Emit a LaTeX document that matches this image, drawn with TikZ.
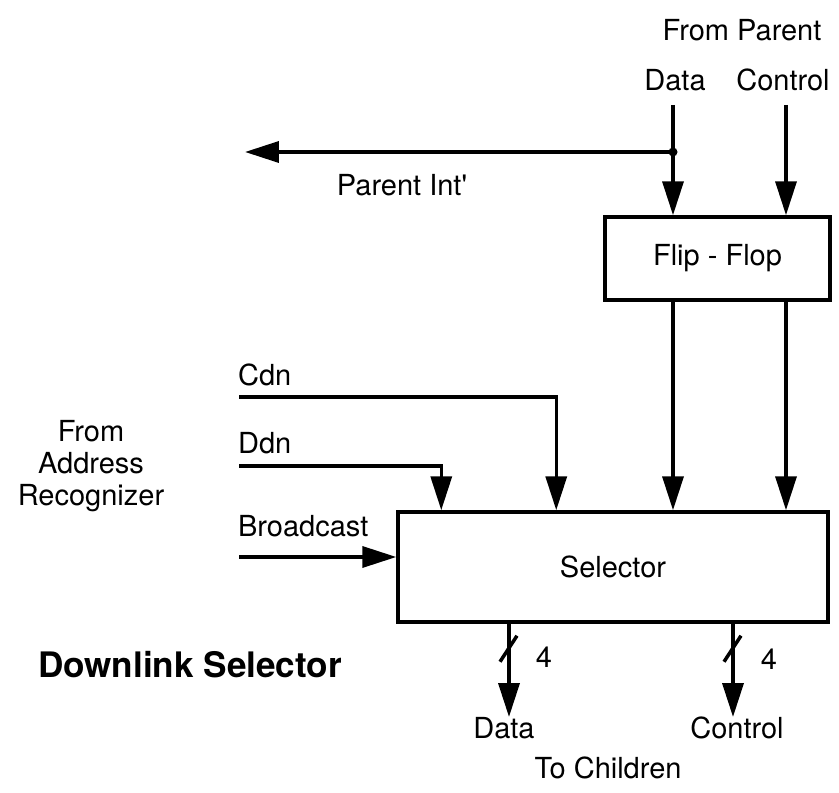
\documentclass[tikz,border=0pt]{standalone}
\usepackage{fontspec}
\setmainfont{TeX Gyre Heros}
\usetikzlibrary{positioning, arrows.meta, calc}

\tikzset{
    sig/.style={line width=2pt, -{Triangle[length=0.68cm, width=0.42cm]}},
    wire/.style={line width=2pt},
    block/.style={draw, line width=2pt, inner sep=0pt},
    lbl/.style={font=\fontsize{16.5}{20}\selectfont, inner sep=1pt},
}

\begin{document}
\begin{tikzpicture}[x=0.02cm, y=-0.02cm]
    \useasboundingbox (0,0) rectangle (839,793);

    % Flip-flop
    \node[block, minimum width=4.5cm, minimum height=1.66cm, lbl, inner sep=0pt] (ff) at (717.5,258.5) {Flip - Flop};

    % Inputs from parent
    \node[lbl] (fp) at (742,30) {From Parent};
    \node[lbl] (pdl) at (675,80) {Data};
    \node[lbl] (pcl) at (783,80) {Control};
    \coordinate (pd) at (673,105);
    \coordinate (pc) at (786,105);
    \coordinate (jn) at (673,152);
    \draw[sig] (pd) -- (pd |- ff.north);
    \draw[sig] (pc) -- (pc |- ff.north);

    % Parent Int' branch
    \coordinate (pint) at (245,152);
    \draw[sig] (jn) -- (pint);
    \fill (jn) circle (0.09cm);
    \node[lbl] (pil) at (402,185) {Parent Int\textquotesingle};

    % Selector
    \node[block, minimum width=8.6cm, minimum height=2.2cm, lbl, inner sep=0pt] (sel) at (613,567) {Selector};
    \draw[sig] (pd |- ff.south) -- (pd |- sel.north);
    \draw[sig] (pc |- ff.south) -- (pc |- sel.north);

    % From address recognizer
    \node[lbl, align=center, font=\fontsize{16.5}{18.2}\selectfont] (ar) at (91,466) {From\\Address\\Recognizer};
    \node[lbl, anchor=west] (cdnl) at (236,375) {Cdn};
    \node[lbl, anchor=west] (ddnl) at (236,443) {Ddn};
    \node[lbl, anchor=west] (bcl) at (236,526) {Broadcast};
    \coordinate (cdn) at (239,397);
    \coordinate (ddn) at (239,466);
    \coordinate (bc) at (239,557);
    \draw[sig] (cdn) -| ([xshift=3.2cm]sel.north west);
    \draw[sig] (ddn) -| ([xshift=0.9cm]sel.north west);
    \draw[sig] (bc) -- (bc -| sel.west);

    % To children
    \coordinate (od) at (509,717);
    \coordinate (oc) at (733,717);
    \draw[sig] (od |- sel.south) -- (od);
    \draw[sig] (oc |- sel.south) -- (oc);
    \draw[wire] ($(od |- sel.south)+(-9,38)$) -- ++(17,-26);
    \draw[wire] ($(oc |- sel.south)+(-9,38)$) -- ++(17,-26);
    \node[lbl] (n4d) at (544,657) {4};
    \node[lbl] (n4c) at (769,659) {4};
    \node[lbl] (cd) at (504,728) {Data};
    \node[lbl] (cc) at (737,728) {Control};
    \node[lbl] (tc) at (608,768) {To Children};

    % Title
    \node[font=\bfseries\fontsize{20}{24}\selectfont] (title) at (190,665) {Downlink Selector};
\end{tikzpicture}
\end{document}
